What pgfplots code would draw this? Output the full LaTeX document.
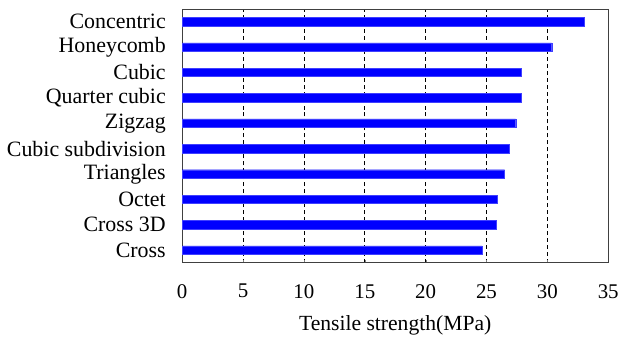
\documentclass[border=0pt]{standalone}
\usepackage{pgfplots}
\pgfplotsset{compat=1.18}
\usepackage{fontspec}
\setmainfont{Liberation Serif}
\begin{document}
\begin{tikzpicture}
\begin{axis}[
  name=a,
  scale only axis,
  width=428pt, height=255pt,
  xbar, bar width=8.5pt,
  xmin=0, xmax=35,
  ymin=-0.5, ymax=9.5,
  xtick={0,5,...,35},
  ytick={0,...,9},
  yticklabels={Cross,Cross 3D,Octet,Triangles,Cubic subdivision,Zigzag,Quarter cubic,Cubic,Honeycomb,Concentric},
  xmajorgrids,
  major grid style={black, dash pattern=on 4pt off 3pt, line width=0.7pt},
  xtick pos=bottom, xtick align=inside,
  major tick length=3pt,
  ytick style={draw=none},
  yticklabel style={font=\fontsize{22}{24}\selectfont, xshift=-10pt},
  xticklabel style={font=\fontsize{21}{23}\selectfont, yshift=-18pt},
  /pgf/number format/assume math mode=true,
  xlabel={Tensile strength(MPa)},
  xlabel style={font=\fontsize{21.7}{23}\selectfont, yshift=-10pt},
  axis line style={black!75, line width=0.9pt},
]
\addplot[fill=blue, draw=blue!75, line width=0.4pt] coordinates {
(24.65,0) (25.8,1) (25.9,2) (26.48,3) (26.83,4) (27.4,5) (27.87,6) (27.87,7) (30.36,8) (33.0,9)
};
\end{axis}
\path (a.south west) ++(-183pt,-69pt);
\path (a.north east) ++(11pt,9pt);
\end{tikzpicture}
\end{document}
